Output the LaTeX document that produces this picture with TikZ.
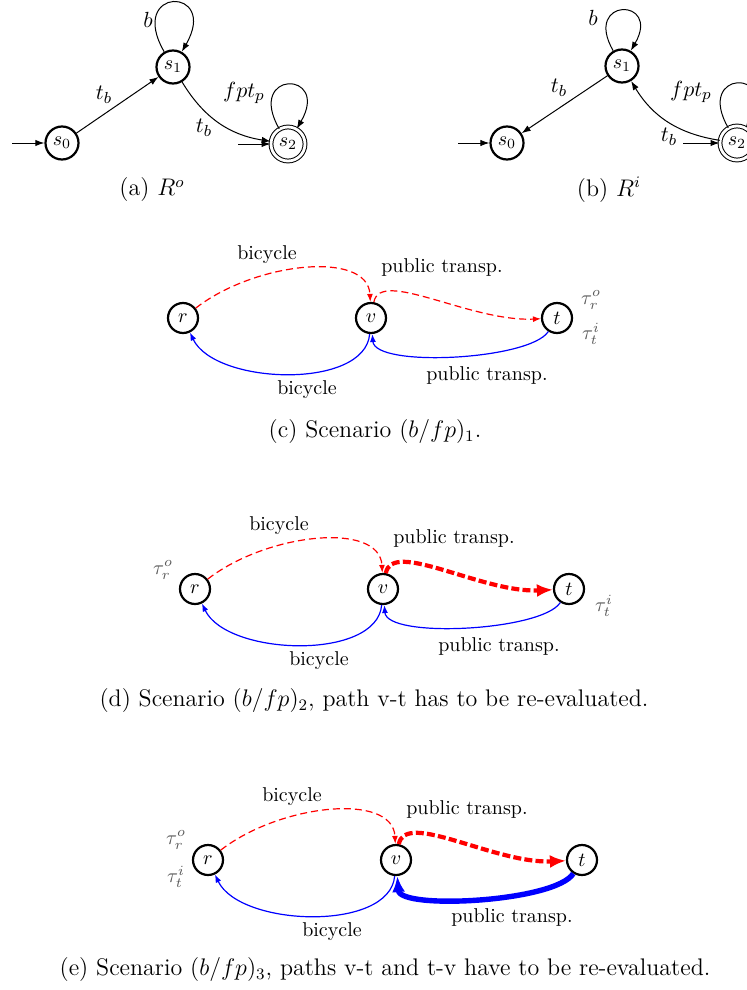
\documentclass[tikz,border=0pt]{standalone}
\usetikzlibrary{arrows.meta}
\newcommand\scenpanel[5]{%
\begin{scope}[shift={(#2,#3)}]
 \node[sn] (r#1) at (183,-318) {$r$};
 \node[sn] (v#1) at (371,-318) {$v$};
 \node[sn] (t#1) at (557,-318) {$t$};
 \draw[redd] (r#1) .. controls (255,-262) and (368,-250) .. (v#1);
 \draw[#4] (v#1) .. controls (380,-268) and (470,-322) .. (t#1);
 \draw[bl] (v#1) .. controls (365,-390) and (215,-385) .. (r#1);
 \draw[#5] (t#1) .. controls (530,-360) and (375,-368) .. (v#1);
 \node (bt#1) at (267,-255) {bicycle};
 \node (pt#1) at (442,-267) {public transp.};
 \node (bb#1) at (307,-390) {bicycle};
 \node (pb#1) at (487,-375) {public transp.};
\end{scope}}
\begin{document}
\begin{tikzpicture}[x=0.5pt,y=0.5pt,
  st/.style={circle,draw,line width=1.1pt,minimum size=16.5pt,inner sep=0pt},
  acc/.style={circle,draw,double,line width=0.5pt,double distance=1.4pt,minimum size=17pt,inner sep=0pt},
  sn/.style={circle,draw,line width=1.1pt,minimum size=15pt,inner sep=0pt},
  ar/.style={-{Latex[length=4.5pt,width=3.2pt]},line width=0.5pt},
  redd/.style={red,line width=0.6pt,dash pattern=on 3.5pt off 2pt,-{Latex[length=4pt,width=3pt]}},
  reddthick/.style={red,line width=2.1pt,dash pattern=on 4pt off 1.6pt,-{Latex[length=8pt,width=6.5pt]}},
  bl/.style={blue,line width=0.6pt,-{Latex[length=4pt,width=3pt]}},
  blthick/.style={blue,line width=2.7pt,-{Latex[length=8pt,width=6.5pt]}},
  tau/.style={text=black!65,inner sep=1pt},
  captxt/.style={font=\large},
  el/.style={font=\fontsize{11}{13}\selectfont}
]
\useasboundingbox (0,0) rectangle (747,-990);

% (a)
\node[st] (s0a) at (62,-143) {$s_0$};
\node[st] (s1a) at (173,-67) {$s_1$};
\node[acc] (s2a) at (288,-144) {$s_2$};
\coordinate (ia0) at (12,-143);
\coordinate (ia2) at (238,-144);
\draw[ar] (ia0) -- (s0a);
\draw[ar] (ia2) -- (s2a);
\draw[ar] (s0a) -- (s1a);
\draw[ar] (s1a) to[bend right=25] (s2a);
\draw[ar] (s1a) to[out=120,in=60,min distance=38pt] (s1a);
\draw[ar] (s2a) to[out=120,in=60,min distance=34pt] (s2a);
\node[el] (la1) at (148,-20) {$b$};
\node[el] (la2) at (104,-95) {$t_b$};
\node[el] (la3) at (244,-93) {$fpt_p$};
\node[el] (la4) at (204,-128) {$t_b$};
\node[captxt] (capa) at (152,-190) {(a) $R^o$};

% (b)
\node[st] (s0b) at (507,-143) {$s_0$};
\node[st] (s1b) at (622,-66) {$s_1$};
\node[acc] (s2b) at (737,-143) {$s_2$};
\coordinate (ib0) at (458,-143);
\coordinate (ib2) at (683,-143);
\draw[ar] (ib0) -- (s0b);
\draw[ar] (ib2) -- (s2b);
\draw[ar] (s1b) -- (s0b);
\draw[ar] (s2b) to[bend left=25] (s1b);
\draw[ar] (s1b) to[out=120,in=60,min distance=31pt] (s1b);
\draw[ar] (s2b) to[out=120,in=60,min distance=34pt] (s2b);
\node[el] (lb1) at (593,-18) {$b$};
\node[el] (lb2) at (559,-88) {$t_b$};
\node[el] (lb3) at (691,-92) {$fpt_p$};
\node[el] (lb4) at (669,-137) {$t_b$};
\node[captxt] (capb) at (609,-190) {(b) $R^i$};

% (c)
\scenpanel{c}{0}{0}{redd}{bl}
\node[tau] (tc1) at (591,-300) {$\tau_r^o$};
\node[tau] (tc2) at (591,-334) {$\tau_t^i$};
\node[captxt] (capc) at (375,-432) {(c) Scenario $(b/fp)_1$.};

% (d)
\scenpanel{d}{12}{-271}{reddthick}{bl}
\node[tau] (td1) at (163,-570) {$\tau_r^o$};
\node[tau] (td2) at (604,-606) {$\tau_t^i$};
\node[captxt] (capd) at (374,-701) {(d) Scenario $(b/fp)_2$, path v-t has to be re-evaluated.};

% (e)
\scenpanel{e}{25}{-542}{reddthick}{blthick}
\node[tau] (te1) at (176,-840) {$\tau_r^o$};
\node[tau] (te2) at (176,-877) {$\tau_t^i$};
\node[captxt] (cape) at (385,-970) {(e) Scenario $(b/fp)_3$, paths v-t and t-v have to be re-evaluated.};
\end{tikzpicture}
\end{document}
